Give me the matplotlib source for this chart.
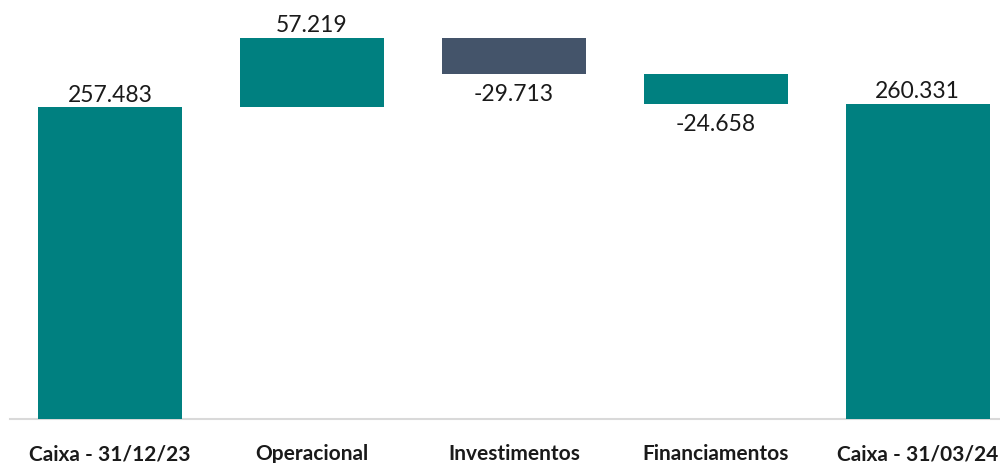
import matplotlib.pyplot as plt
import numpy as np

categories = ["Caixa - 31/12/23", "Operacional", "Investimentos", "Financiamentos", "Caixa - 31/03/24"]
values = [257.483, 57.219, -29.713, -24.658, 260.331]
is_total = [True, False, False, False, True]
bar_colors = ["#008080", "#008080", "#44546A", "#008080", "#008080"]

plt.rcParams['font.family'] = ['Lato', 'DejaVu Sans']

# waterfall bottoms
bottoms = []
running = 0.0
for v, tot in zip(values, is_total):
    if tot:
        bottoms.append(0.0)
        running = v
    else:
        bottoms.append(running if v >= 0 else running + v)
        running += v
heights = [abs(v) for v in values]

fig = plt.figure(figsize=(10, 4.64), dpi=100)
ax = fig.add_axes([0, 0, 1, 1])

x = np.arange(len(categories))
ax.bar(x, heights, bottom=bottoms, width=0.713, color=bar_colors, zorder=2)

for i, v in enumerate(values):
    label = f"{v:.3f}"
    if v >= 0:
        ax.annotate(label, (i, bottoms[i] + heights[i]), xytext=(0, 4.5),
                    textcoords='offset points', ha='center', va='baseline',
                    fontsize=16.5, color='#1a1a1a')
    else:
        ax.annotate(label, (i, bottoms[i]), xytext=(0, -7),
                    textcoords='offset points', ha='center', va='top',
                    fontsize=16.5, color='#1a1a1a')

ax.axhline(0, xmin=0.01, color='#D9D9D9', lw=1.5, zorder=1)

ax.set_xlim(-0.545, 4.408)
ax.set_ylim(-36.3, 346.6)
ax.set_xticks([])
ax.set_yticks([])
for s in ax.spines.values():
    s.set_visible(False)

# category labels near the bottom edge
for i, c in enumerate(categories):
    ax.annotate(c, (i, 0), xytext=(0, -17.5), textcoords='offset points',
                ha='center', va='top', fontsize=15, fontweight='bold', color='#1a1a1a')

fig.savefig("out.png", dpi=100)
